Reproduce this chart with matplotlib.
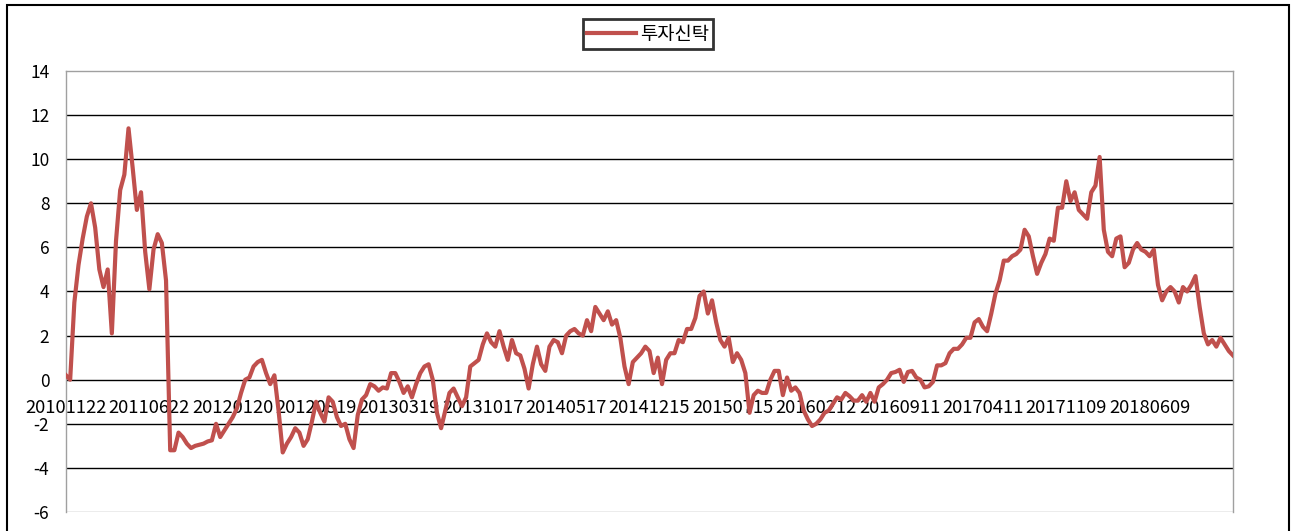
import numpy as np
import matplotlib.pyplot as plt
from matplotlib.patches import Rectangle

plt.rcParams['font.family'] = ['Noto Sans CJK KR', 'DejaVu Sans']

series_name = "투자신탁"

# values, evenly spaced along the category axis
values = [
    0.2, 0.0, 3.5, 5.2, 6.4, 7.4, 8.0, 6.9, 5.0, 4.2,
    5.0, 2.1, 6.3, 8.6, 9.3, 11.4, 9.6, 7.7, 8.5, 5.8,
    4.1, 5.9, 6.6, 6.2, 4.5, -3.2, -3.2, -2.4, -2.6, -2.9,
    -3.1, -3.0, -2.95, -2.9, -2.8, -2.75, -2.0, -2.6, -2.3, -2.0,
    -1.7, -1.3, -0.6, 0.0, 0.1, 0.6, 0.8, 0.9, 0.3, -0.2,
    0.2, -1.4, -3.3, -2.9, -2.6, -2.2, -2.4, -3.0, -2.7, -1.9,
    -1.0, -1.5, -1.9, -0.8, -1.0, -1.7, -2.1, -2.0, -2.7, -3.1,
    -1.6, -0.9, -0.7, -0.2, -0.3, -0.5, -0.35, -0.4, 0.3, 0.3,
    -0.1, -0.6, -0.3, -0.8, -0.2, 0.3, 0.6, 0.7, 0.0, -1.5,
    -2.2, -1.4, -0.6, -0.4, -0.8, -1.2, -0.8, 0.6, 0.75, 0.9,
    1.6, 2.1, 1.7, 1.5, 2.2, 1.5, 0.9, 1.8, 1.2, 1.1,
    0.5, -0.4, 0.7, 1.5, 0.7, 0.4, 1.5, 1.8, 1.7, 1.2,
    2.0, 2.2, 2.3, 2.1, 2.0, 2.7, 2.2, 3.3, 3.0, 2.7,
    3.1, 2.5, 2.7, 1.9, 0.6, -0.2, 0.8, 1.0, 1.2, 1.5,
    1.3, 0.3, 1.0, -0.2, 0.9, 1.2, 1.2, 1.8, 1.7, 2.3,
    2.3, 2.8, 3.8, 4.0, 3.0, 3.6, 2.6, 1.8, 1.5, 1.9,
    0.8, 1.2, 0.9, 0.3, -1.5, -0.7, -0.5, -0.6, -0.6, 0.0,
    0.4, 0.4, -0.7, 0.1, -0.5, -0.35, -0.6, -1.4, -1.8, -2.1,
    -2.0, -1.8, -1.5, -1.4, -1.1, -0.8, -0.9, -0.6, -0.75, -0.95,
    -0.95, -0.7, -1.0, -0.6, -1.0, -0.35, -0.2, 0.0, 0.3, 0.35,
    0.45, -0.1, 0.35, 0.4, 0.1, 0.0, -0.35, -0.3, -0.1, 0.65,
    0.65, 0.75, 1.2, 1.4, 1.4, 1.6, 1.9, 1.9, 2.6, 2.75,
    2.4, 2.2, 3.0, 3.9, 4.5, 5.4, 5.4, 5.6, 5.7, 5.9,
    6.8, 6.5, 5.6, 4.8, 5.3, 5.7, 6.4, 6.3, 7.8, 7.8,
    9.0, 8.1, 8.5, 7.7, 7.5, 7.3, 8.5, 8.8, 10.1, 6.8,
    5.8, 5.6, 6.4, 6.5, 5.1, 5.3, 5.9, 6.2, 5.9, 5.8,
    5.6, 5.9, 4.3, 3.6, 4.0, 4.2, 4.0, 3.5, 4.2, 4.0,
    4.3, 4.7, 3.3, 2.1, 1.6, 1.8, 1.5, 1.9, 1.6, 1.3, 1.1,
]

date_labels = ["20101122", "20110622", "20120120", "20120819", "20130319",
               "20131017", "20140517", "20141215", "20150715", "20160212",
               "20160911", "20170411", "20171109", "20180609"]
label_step = 20

yticks = np.arange(-6, 15, 2)

fig = plt.figure(figsize=(12.96, 5.31), dpi=100)
ax = fig.add_axes([66/1296, 1 - 512/531, (1233-66)/1296, (512-71)/531])

x = np.arange(len(values))
line, = ax.plot(x, values, color="#C0504D", linewidth=3.0, label=series_name,
                solid_joinstyle="round", zorder=3)

for v in yticks[1:-1]:
    ax.axhline(v, color="black", linewidth=1.0, zorder=1)

ax.set_xlim(0, len(values) - 1)
ax.set_ylim(yticks[0], yticks[-1])
ax.set_yticks(yticks)
ax.set_yticklabels([str(v) for v in yticks])

# category labels sit on the zero line
ax.spines["bottom"].set_position(("data", 0))
ax.spines["bottom"].set_visible(False)
ax.axhline(yticks[0], color="#A0A0A0", linewidth=1.0)
for s in ["left", "right", "top"]:
    ax.spines[s].set_color("#A0A0A0")
    ax.spines[s].set_linewidth(1.0)
ax.set_xticks(x[::label_step][:len(date_labels)])
ax.set_xticklabels(date_labels)
ax.tick_params(axis="x", length=0, pad=14, labelsize=13.2)
ax.tick_params(axis="y", length=0, pad=12, labelsize=12.5)

leg = fig.legend(handles=[line], loc="upper center", bbox_to_anchor=(0.5, 1 - 19/531),
                 borderaxespad=0, fancybox=False, edgecolor="black", fontsize=13.5,
                 handlelength=2.6, handletextpad=0.2, borderpad=0.25)
leg.get_frame().set_linewidth(2.0)

fig.patches.append(Rectangle((7/1296, -0.05), 1282/1296, 1.05 - 5/531,
                             transform=fig.transFigure, fill=False,
                             edgecolor="black", linewidth=1.5))

plt.savefig("out.png", dpi=100)
